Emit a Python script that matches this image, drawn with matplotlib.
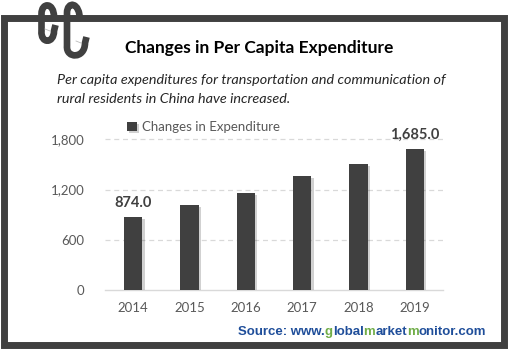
import matplotlib
matplotlib.use("Agg")
import matplotlib.pyplot as plt
from matplotlib.path import Path
from matplotlib.patches import PathPatch, Rectangle
import matplotlib.patheffects as pe

years = ["2014", "2015", "2016", "2017", "2018", "2019"]
expenditure = [874.0, 1012.6, 1163.1, 1358.6, 1505.0, 1685.0]
yticks = [0, 600, 1200, 1800]
title = "Changes in Per Capita Expenditure"
subtitle = ["Per capita expenditures for transportation and communication of",
            "rural residents in China have increased."]
legend_label = "Changes in Expenditure"
source_parts = [("Source: www.", "#1F4E9A"), ("g", "#70AD47"), ("lobal", "#1F4E9A"),
                ("m", "#70AD47"), ("arket", "#1F4E9A"), ("m", "#70AD47"),
                ("onitor.com", "#1F4E9A")]

W, H = 508, 349
FONT = "Lato"
fig = plt.figure(figsize=(W / 100, H / 100), dpi=100)
fig.patch.set_facecolor("white")

# overlay in pixel coords
ov = fig.add_axes([0, 0, 1, 1], zorder=0)
ov.set_xlim(0, W)
ov.set_ylim(H, 0)
ov.axis("off")

frame_col = "#404040"
ov.add_patch(Rectangle((3.5, 17.5), W - 7.5, H - 21.5, fill=False, lw=5, ec=frame_col))


def hook(aL, aR, aT, aE, uB, uR, tY):
    verts = [(aR, aE),
             (aR, aT - 3), (aL, aT - 3), (aL, aT + 9),
             (aL, uB - 10),
             (aL - 1, uB + 3), (uR, uB + 3), (uR, tY + 3),
             (uR + 1.5, tY - 3)]
    codes = [Path.MOVETO, Path.CURVE4, Path.CURVE4, Path.CURVE4, Path.LINETO,
             Path.CURVE4, Path.CURVE4, Path.CURVE4, Path.LINETO]
    ov.add_patch(PathPatch(Path(verts, codes), fill=False, lw=4.8, ec=frame_col,
                           capstyle="butt", joinstyle="round", zorder=3))
    ov.plot([uR - 9, uR - 4], [tY + 1, tY + 3], color="#BBBBBB", lw=0.6, zorder=4)


hook(41.5, 54, 5, 17, 41, 54, 28)
hook(67, 80, 4, 21, 56, 85, 40)

# main axes
ax_left, ax_right, y0px = 105, 443, 290
ymax = 2100
px_per = 150.7 / 1800
ax_h = ymax * px_per
ax = fig.add_axes([ax_left / W, (H - y0px) / H, (ax_right - ax_left) / W, ax_h / H], zorder=1)
ax.set_facecolor("none")
x = list(range(len(years)))
bars = ax.bar(x, expenditure, width=0.33, color="#404040", zorder=3,
              label=legend_label)
for b in bars:
    b.set_path_effects([pe.SimplePatchShadow(offset=(1.5, -1.5), shadow_rgbFace="#000000",
                                             alpha=0.18), pe.Normal()])
ax.set_xlim(-0.5, len(years) - 0.5)
ax.set_ylim(0, ymax)
ax.set_yticks(yticks)
ax.set_yticklabels([f"{v:,}" for v in yticks])
ax.set_xticks(x)
ax.set_xticklabels(years)
ax.tick_params(length=0, labelsize=9.5, labelcolor="#595959")
for lab in ax.get_xticklabels() + ax.get_yticklabels():
    lab.set_fontfamily(FONT)
ax.tick_params(axis="y", pad=15)
ax.tick_params(axis="x", pad=9)
for s in ["top", "right", "left"]:
    ax.spines[s].set_visible(False)
ax.spines["bottom"].set_color("#D9D9D9")
ax.spines["bottom"].set_linewidth(1)
for v in yticks[1:]:
    ax.axhline(v, color="#D9D9D9", lw=0.9, ls=(0, (4, 3)), zorder=1)

for i in (0, len(years) - 1):
    ax.annotate(f"{expenditure[i]:,.1f}", (x[i], expenditure[i]), xytext=(0, 10),
                textcoords="offset points", ha="center", va="center",
                fontsize=10.5, fontweight="bold", color="#404040", family=FONT)

leg = ax.legend(loc="center left", bbox_to_anchor=(0.066, 1 - 13 / ax_h), frameon=False,
                prop={"family": FONT, "size": 9.5}, handlelength=0.7, handleheight=0.7,
                handletextpad=0.4, borderaxespad=0, borderpad=0)
for t in leg.get_texts():
    t.set_color("#595959")

renderer = fig.canvas.get_renderer()


def fit(t, target_w):
    bb = t.get_window_extent(renderer)
    t.set_fontsize(t.get_fontsize() * target_w / bb.width)


tt = ov.text(259, 48, title, ha="center", va="center", fontsize=12, fontweight="bold",
             family=FONT, color="black", zorder=4)
fit(tt, 266)
s1 = ov.text(57, 80, subtitle[0], ha="left", va="center", fontsize=11, style="italic",
             family=FONT, color="#262626", zorder=4)
fit(s1, 388)
ov.text(57, 99, subtitle[1], ha="left", va="center", fontsize=s1.get_fontsize(),
        style="italic", family=FONT, color="#262626", zorder=4)

# source multicolour
pieces = []
for txt, col in source_parts:
    pieces.append(ov.text(0, 332, txt, ha="left", va="center", fontsize=9.5,
                          fontweight="bold", family="Liberation Sans", color=col, zorder=4))
full = ov.text(0, 332, "".join(p for p, _ in source_parts), fontsize=9.5,
               fontweight="bold", family="Liberation Sans", alpha=0)
bbf = full.get_window_extent(renderer)
scale = 250 / bbf.width
for p in pieces:
    p.set_fontsize(9.5 * scale)
full.remove()
xs = 238.0
for p in pieces:
    p.set_x(xs)
    xs += p.get_window_extent(renderer).width

fig.savefig("out.png", dpi=100)
